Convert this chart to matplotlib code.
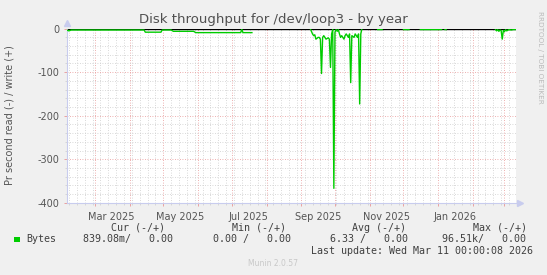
import numpy as np
import pandas as pd
import matplotlib
matplotlib.use("Agg")
import matplotlib.pyplot as plt
import matplotlib.dates as mdates
from matplotlib.patches import Rectangle
from matplotlib.ticker import MultipleLocator
from matplotlib.transforms import blended_transform_factory

plt.rcParams["axes.unicode_minus"] = False

title = "Disk throughput for /dev/loop3 - by year"
ylabel = "Pr second read (-) / write (+)"

# read bytes per second (drawn below zero), nan = no data
read_dates = [
    "2025-02-04", "2025-02-06", "2025-02-08", "2025-04-14", "2025-04-15",
    "2025-04-29", "2025-04-30", "2025-05-08", "2025-05-10", "2025-05-28",
    "2025-05-30", "2025-07-09", "2025-07-10", "2025-07-11", "2025-07-19",
    "2025-07-20",
    "2025-09-09", "2025-09-11", "2025-09-12", "2025-09-13", "2025-09-14",
    "2025-09-16", "2025-09-17", "2025-09-18", "2025-09-19", "2025-09-20",
    "2025-09-21", "2025-09-23", "2025-09-25", "2025-09-26", "2025-09-27",
    "2025-09-28", "2025-09-29", "2025-09-30", "2025-10-01", "2025-10-02",
    "2025-10-03", "2025-10-04", "2025-10-05", "2025-10-06", "2025-10-07",
    "2025-10-09", "2025-10-10", "2025-10-11", "2025-10-13", "2025-10-14",
    "2025-10-15", "2025-10-16", "2025-10-18", "2025-10-19", "2025-10-20",
    "2025-10-21", "2025-10-22", "2025-10-23", "2025-10-24", "2025-10-25",
    "2025-10-26",
    "2025-11-08", "2025-11-12", "2025-11-13",
    "2025-12-01", "2025-12-06", "2025-12-07",
    "2025-12-16", "2026-01-04", "2026-01-05",
    "2026-01-07", "2026-01-08", "2026-01-09",
    "2026-02-21", "2026-02-22", "2026-02-23", "2026-02-24", "2026-02-25",
    "2026-02-26", "2026-02-27", "2026-02-28", "2026-03-01", "2026-03-02",
    "2026-03-03", "2026-03-05", "2026-03-07", "2026-03-09", "2026-03-11",
]
read_bytes = [
    3, 5, 3, 3, 8,
    8, 3, 3, 6, 6,
    9, 9, 1, 9, 9,
    np.nan,
    0, 12, 16, 14, 24,
    20, 20, 24, 103, 20,
    16, 24, 21, 24, 89,
    12, 2, 367, 8, 2,
    6, 2, 12, 20, 16,
    24, 16, 12, 20, 12,
    124, 16, 20, 12, 16,
    20, 12, 173, 12, 0,
    np.nan,
    2, 2, np.nan,
    2, 2, np.nan,
    2, 2, np.nan,
    2, 2, np.nan,
    2, 5, 2, 6, 3,
    4, 24, 4, 7, 2,
    5, 2, 3, 2, 2,
]

x_start = "2025-02-04"
x_end = "2026-03-11"
label_dates = ["2025-03-16", "2025-05-16", "2025-07-16", "2025-09-16",
               "2025-11-16", "2026-01-16"]
label_text = ["Mar 2025", "May 2025", "Jul 2025", "Sep 2025", "Nov 2025", "Jan 2026"]
yticks = [0, -100, -200, -300, -400]

legend_heads = ["Cur (-/+)", "Min (-/+)", "Avg (-/+)", "Max (-/+)"]
legend_vals = ["839.08m/   0.00", "0.00 /   0.00", "6.33 /   0.00", "96.51k/   0.00"]
series_name = "Bytes"
last_update = "Last update: Wed Mar 11 00:00:08 2026"
footer = "Munin 2.0.57"
side_note = "RRDTOOL / TOBI OETIKER"

GREEN = "#00CC00"
TEXT = "#555555"
AXIS = "#C8CCEE"
MAJ = "#E89494"
MIN = "#CCCCCC"

W, H = 547, 275
def fx(x):
    return x / W
def fy(y):
    return 1 - y / H

fig = plt.figure(figsize=(W / 100, H / 100), dpi=100, facecolor="#F0F0F0")
ax = fig.add_axes([fx(66.7), fy(202.7), fx(515.7) - fx(66.7), fy(28.7) - fy(202.7)])
ax.set_facecolor("white")

dates = pd.to_datetime(read_dates)
vals = -np.array(read_bytes, dtype=float)

ax.set_xlim(pd.Timestamp(x_start), pd.Timestamp(x_end))
ax.set_ylim(-400, 0)

# grid
ax.xaxis.set_major_locator(mdates.MonthLocator())
ax.xaxis.set_minor_locator(mdates.WeekdayLocator(byweekday=mdates.TH))
ax.xaxis.set_major_formatter(plt.NullFormatter())
ax.yaxis.set_major_locator(MultipleLocator(100))
ax.yaxis.set_minor_locator(MultipleLocator(20))
ax.set_yticks(yticks)
ax.grid(which="minor", color=MIN, linestyle=(0, (1, 2)), linewidth=0.6)
ax.grid(which="major", color=MAJ, linestyle=(0, (1, 2)), linewidth=0.6)
ax.set_axisbelow(True)

ax.tick_params(axis="both", which="major", length=2, width=0.6, color=MAJ,
               labelsize=7, labelcolor=TEXT)
ax.tick_params(axis="both", which="minor", length=1.5, width=0.5, color=MIN)
ax.tick_params(axis="y", pad=3.5)

for s in ["top", "right"]:
    ax.spines[s].set_visible(False)
for s in ["left", "bottom"]:
    ax.spines[s].set_color(AXIS)
    ax.spines[s].set_linewidth(0.8)

# month labels centred in the month
tr = blended_transform_factory(ax.transData, ax.transAxes)
for d, t in zip(label_dates, label_text):
    ax.text(pd.Timestamp(d), -0.055, t, transform=tr, ha="center", va="top",
            fontsize=7, color=TEXT)

# axis arrows
ax.plot([0], [1.035], marker="^", markersize=4, color=AXIS, transform=ax.transAxes, clip_on=False)
ax.plot([1.01], [0], marker=">", markersize=4, color=AXIS, transform=ax.transAxes, clip_on=False)

ax.axhline(0, color="black", linewidth=1, zorder=2)
ax.plot(dates, vals, color=GREEN, linewidth=1, zorder=3)

fig.text(fx(273.5), fy(19), title, ha="center", va="center", fontsize=9.5, color="#505050")
fig.text(fx(10), fy(115), ylabel, rotation=90, ha="center", va="center", fontsize=7, color=TEXT)
fig.text(fx(540), fy(57), side_note, rotation=270, ha="center", va="center",
         fontsize=5.2, color="#BBBBBB")

mono = "DejaVu Sans Mono"
head_x = [111, 232, 351.7, 472.7]
val_x = [82.7, 213.3, 330, 441.7]
for x, t in zip(head_x, legend_heads):
    fig.text(fx(x), fy(227.7), t, ha="left", va="center", fontsize=7.2, family=mono, color="#404040")
fig.patches.append(Rectangle((fx(14), fy(242)), fx(5.5), fy(236.5) - fy(242),
                             transform=fig.transFigure, facecolor=GREEN, edgecolor="none"))
fig.text(fx(26.7), fy(239.3), series_name, ha="left", va="center", fontsize=7.2, family=mono, color="#404040")
for x, t in zip(val_x, legend_vals):
    fig.text(fx(x), fy(239.3), t, ha="left", va="center", fontsize=7.2, family=mono, color="#404040")
fig.text(fx(532.7), fy(251), last_update, ha="right", va="center", fontsize=7.2, family=mono, color="#404040")
fig.text(fx(248), fy(263.3), footer, ha="left", va="center", fontsize=5.5, color="#C8C8C8")

fig.savefig("out.png", dpi=100, facecolor=fig.get_facecolor())
